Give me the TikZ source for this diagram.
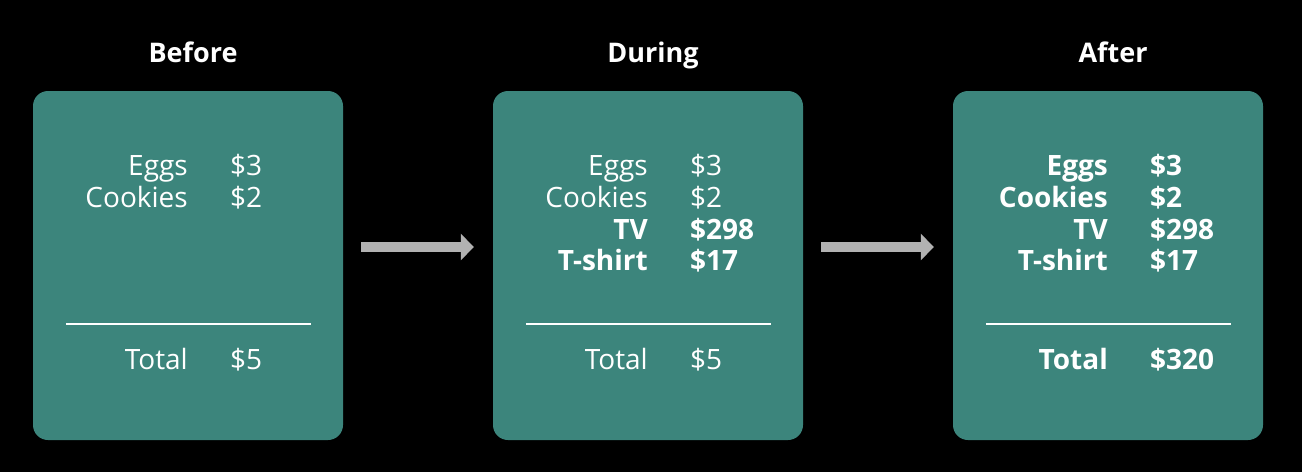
\documentclass[tikz,border=0pt]{standalone}
\usepackage{fontspec}
\setmainfont{Open Sans}
\usetikzlibrary{arrows.meta}
\definecolor{cardteal}{RGB}{60,133,124}
\definecolor{flowgray}{RGB}{178,178,178}
\begin{document}
\begin{tikzpicture}[x=1pt,y=-1pt,
	card/.style={fill=cardteal,rounded corners=15pt,minimum width=310pt,minimum height=349pt,inner sep=0pt},
	title/.style={font=\fontsize{27}{32}\selectfont\bfseries,text=white,anchor=base},
	item/.style={font=\fontsize{28}{34}\selectfont,text=white,anchor=base east,inner sep=0pt},
	price/.style={item,anchor=base west},
	new/.style={font=\fontsize{28}{34}\selectfont\bfseries},
	flow/.style={flowgray,line width=10pt,-{Triangle[width=26pt,length=13pt]}}]
	\fill[black] (0,0) rectangle (1302,472);
	% the three receipts
	\node[card] (before) at (188,265.5) {};
	\node[card] (during) at (648,265.5) {};
	\node[card] (after) at (1108,265.5) {};
	\node[title] (before-t) at (193,62) {Before};
	\node[title] (during-t) at (653,62) {During};
	\node[title] (after-t) at (1113,62) {After};
	% before
	\foreach \lbl/\val/\y [count=\i] in {Eggs/\$3/175,Cookies/\$2/207,Total/\$5/369} {
		\node[item] (before-l\i) at (188,\y) {\lbl};
		\node[price] (before-v\i) at (230,\y) {\val};
	}
	% during
	\foreach \lbl/\val/\y [count=\i] in {Eggs/\$3/175,Cookies/\$2/207,Total/\$5/369} {
		\node[item] (during-l\i) at (648,\y) {\lbl};
		\node[price] (during-v\i) at (690,\y) {\val};
	}
	\foreach \lbl/\val/\y [count=\i] in {TV/\$298/239,T-shirt/\$17/270.5} {
		\node[item,new] (during-n\i) at (648,\y) {\lbl};
		\node[price,new] (during-m\i) at (690,\y) {\val};
	}
	% after
	\foreach \lbl/\val/\y [count=\i] in {Eggs/\$3/175,Cookies/\$2/207,TV/\$298/239,T-shirt/\$17/270.5,Total/\$320/369} {
		\node[item,new] (after-l\i) at (1108,\y) {\lbl};
		\node[price,new] (after-v\i) at (1150,\y) {\val};
	}
	\foreach \x in {33,493,953}
		\draw[white,line width=2pt] (\x+33,323.5) -- (\x+278,323.5);
	\draw[flow] ([xshift=18pt,yshift=18.5pt]before.east) -- ([xshift=-19pt,yshift=18.5pt]during.west);
	\draw[flow] ([xshift=18pt,yshift=18.5pt]during.east) -- ([xshift=-19pt,yshift=18.5pt]after.west);
\end{tikzpicture}
\end{document}
